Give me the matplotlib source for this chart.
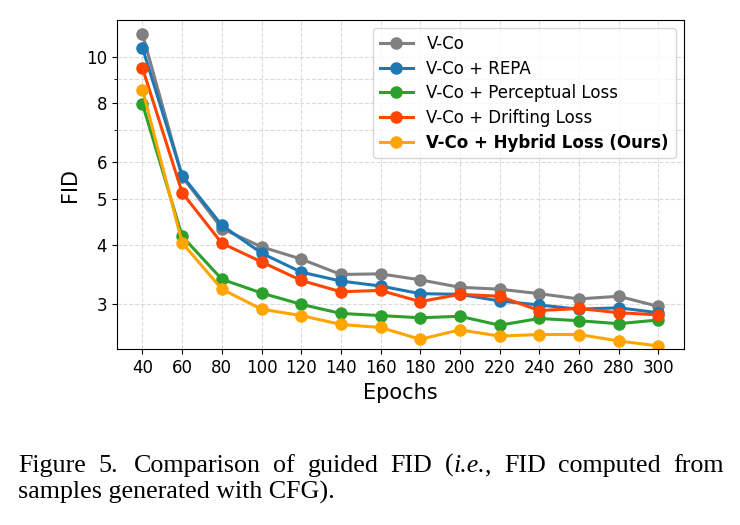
import matplotlib
matplotlib.use("Agg")
import matplotlib.pyplot as plt
from matplotlib.ticker import FixedLocator, FormatStrFormatter, NullFormatter

epochs = [40, 60, 80, 100, 120, 140, 160, 180, 200, 220, 240, 260, 280, 300]
vco = [11.21, 5.58, 4.33, 3.96, 3.73, 3.46, 3.47, 3.37, 3.25, 3.22, 3.15, 3.07, 3.11, 2.96]
vco_repa = [10.47, 5.61, 4.40, 3.84, 3.50, 3.35, 3.27, 3.15, 3.14, 3.04, 2.98, 2.92, 2.94, 2.87]
vco_perc = [7.96, 4.17, 3.38, 3.16, 2.99, 2.86, 2.83, 2.80, 2.82, 2.70, 2.79, 2.76, 2.72, 2.77]
vco_drift = [9.49, 5.16, 4.03, 3.68, 3.36, 3.18, 3.20, 3.03, 3.14, 3.11, 2.90, 2.93, 2.87, 2.84]
vco_hybrid = [8.54, 4.04, 3.22, 2.92, 2.83, 2.71, 2.67, 2.52, 2.64, 2.56, 2.58, 2.58, 2.50, 2.44]

labels = ["V-Co", "V-Co + REPA", "V-Co + Perceptual Loss",
          "V-Co + Drifting Loss", "V-Co + Hybrid Loss (Ours)"]
series = [vco, vco_repa, vco_perc, vco_drift, vco_hybrid]
colors = ["#808080", "#1f77b4", "#2ca02c", "#ff4500", "#ffa500"]
yticks = [3, 4, 5, 6, 8, 10]

W, H = 740, 525
fig = plt.figure(figsize=(W / 100, H / 100), dpi=100)
ax = fig.add_axes([116.7 / W, 1 - 349.3 / H, (684 - 116.7) / W, (349.3 - 20) / H])

for s, lab, c in zip(series, labels, colors):
    ax.plot(epochs, s, marker="o", color=c, label=lab, linewidth=2.2, markersize=8)

ax.set_yscale("log")
ax.set_ylim(2.4, 12.0)
ax.set_xlim(27, 313)
ax.set_xticks(epochs)
ax.yaxis.set_major_locator(FixedLocator(yticks))
ax.yaxis.set_major_formatter(FormatStrFormatter("%g"))
ax.yaxis.set_minor_formatter(NullFormatter())
ax.tick_params(labelsize=12)
ax.grid(True, which="both", linestyle="--", alpha=0.45)
ax.set_xlabel("Epochs", fontsize=15)
ax.set_ylabel("FID", fontsize=15)

leg = ax.legend(loc="upper right", fontsize=12, labelspacing=0.4)
leg.get_texts()[-1].set_fontweight("bold")

# caption
fs = 18.7
fam = "Liberation Serif"
fig.canvas.draw()
r = fig.canvas.get_renderer()

def tw(s, style):
    t = fig.text(0, 0, s, fontsize=fs, family=fam, style=style)
    w = t.get_window_extent(renderer=r).width
    t.remove()
    return w

line1 = [[("Figure", "normal")], [("5.", "normal")], [("Comparison", "normal")],
         [("of", "normal")], [("guided", "normal")], [("FID", "normal")],
         [("(", "normal"), ("i.e.", "italic"), (",", "normal")], [("FID", "normal")],
         [("computed", "normal")], [("from", "normal")]]
gap_w = [1, 1.3, 1, 1, 1, 1, 1, 1, 1]
x0, x1 = 18, 724
widths = [sum(tw(p, st) for p, st in word) for word in line1]
unit = (x1 - x0 - sum(widths)) / sum(gap_w)
x = x0
yb1 = 1 - 472 / H
for i, word in enumerate(line1):
    xx = x
    for p, st in word:
        fig.text(xx / W, yb1, p, fontsize=fs, family=fam, style=st, va="baseline", ha="left")
        xx += tw(p, st)
    x += widths[i]
    if i < len(gap_w):
        x += unit * gap_w[i]

fig.text(x0 / W, 1 - 499 / H, "samples generated with CFG).", fontsize=fs, family=fam,
         va="baseline", ha="left")

fig.savefig("out.png", dpi=100)
